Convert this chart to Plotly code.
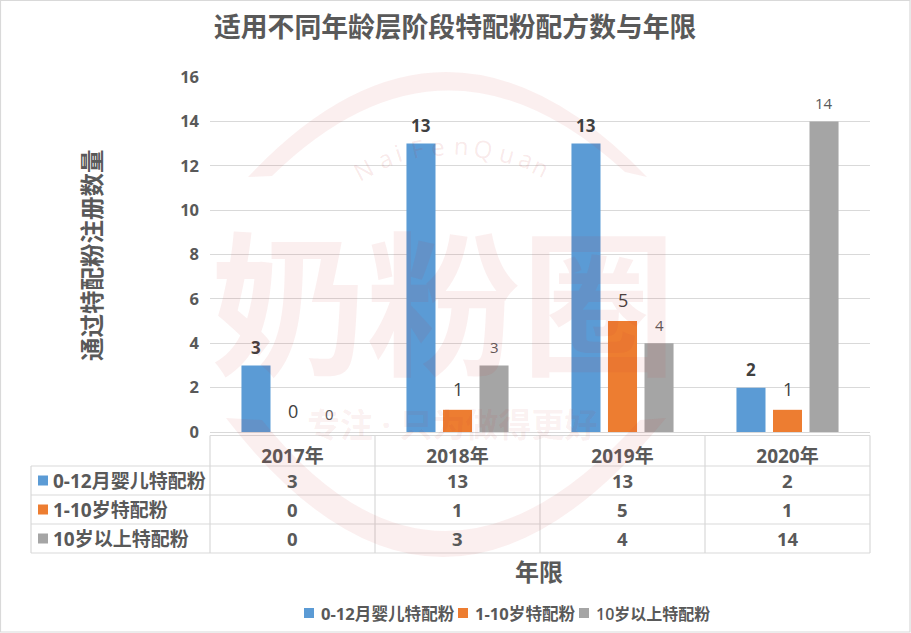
import plotly.graph_objects as go

title = "适用不同年龄层阶段特配粉配方数与年限"
y_title = "通过特配粉注册数量"
x_title = "年限"
years = ["2017年", "2018年", "2019年", "2020年"]
names = ["0-12月婴儿特配粉", "1-10岁特配粉", "10岁以上特配粉"]
infant = [3, 13, 13, 2]
child = [0, 1, 5, 1]
older = [0, 3, 4, 14]
colors = ["#5b9bd5", "#ed7d31", "#a5a5a5"]
series = [infant, child, older]

FONT = "Open Sans, Noto Sans CJK SC, sans-serif"
GREY = "#595959"
LINE = "#d9d9d9"
WM = "rgba(200,50,50,0.08)"
L, R, T, B = 210, 870, 77, 432


def px(x):
    return (x - L) / (R - L)


def py(y):
    return (B - y) / (B - T)


def pt(x, y):
    return f"{px(x):.5f},{py(y):.5f}"


fig = go.Figure()
for name, vals, col in zip(names, series, colors):
    fig.add_bar(name=name, x=years, y=vals, marker=dict(color=col, line_width=0), showlegend=False)

shapes = []
ann = []


def hline(x0, x1, y):
    shapes.append(dict(type="line", xref="paper", yref="paper", x0=px(x0), x1=px(x1), y0=py(y), y1=py(y),
                       line=dict(color=LINE, width=1.2)))


def vline(x, y0, y1):
    shapes.append(dict(type="line", xref="paper", yref="paper", x0=px(x), x1=px(x), y0=py(y0), y1=py(y1),
                       line=dict(color=LINE, width=1.2)))


def text(x, y, s, size, color=GREY, weight=700, anchor="center", **kw):
    ann.append(dict(xref="paper", yref="paper", x=px(x), y=py(y), text=s, showarrow=False, xanchor=anchor,
                    yanchor="middle", font=dict(family=FONT, size=size, color=color, weight=weight), **kw))


def square(x, y, size, col):
    shapes.append(dict(type="rect", xref="paper", yref="paper", x0=px(x), x1=px(x + size), y0=py(y),
                       y1=py(y + size), fillcolor=col, line_width=0))


# outer border
shapes.append(dict(type="rect", xref="paper", yref="paper", x0=px(0.5), x1=px(910), y0=py(0.5), y1=py(632),
                   line=dict(color=LINE, width=1.2), fillcolor="rgba(0,0,0,0)"))

# data table
rows = [435.5, 466, 495, 524, 553]
hline(210, 870, rows[0])
for r in rows[1:]:
    hline(31, 870, r)
vline(31, rows[1], rows[4])
for c in [210, 375, 540, 705, 870]:
    vline(c, rows[0], rows[4])
for i, (name, vals, col) in enumerate(zip(names, series, colors)):
    mid = (rows[i + 1] + rows[i + 2]) / 2
    square(38, mid - 5, 10, col)
    text(51, mid, name, 19, anchor="left")
    for year, v in zip(years, vals):
        ann.append(dict(x=year, xref="x", yref="paper", y=py(mid), text=str(v), showarrow=False, yanchor="middle",
                        font=dict(family=FONT, size=18.5, color=GREY, weight=700)))

# data labels
offs = [-36.5, 0, 36.5]
lift = [18, 21, 18]
lab = [dict(size=17, color="#404040", weight=700), dict(size=18, color="#404040", weight=400),
       dict(size=15, color=GREY, weight=400)]
for vals, o, d, f in zip(series, offs, lift, lab):
    for year, v in zip(years, vals):
        ann.append(dict(x=year, y=v, xref="x", yref="y", text=str(v), showarrow=False, xshift=o, yshift=d,
                        yanchor="middle", font=dict(family=FONT, **f)))

# legend
for xs, xt, name, col, size, w in zip([304, 458, 579], [319, 473, 594], names, colors, [16.6, 16.6, 16], [700, 700, 600]):
    square(xs, 608, 10, col)
    text(xt, 613.5, name, size, anchor="left", weight=w)

# titles
text(455, 27, title, 26.8)
text(539, 571, x_title, 24)
text(92, 255, y_title, 23.5, textangle=-90)

# watermark
shapes.append(dict(type="path", xref="paper", yref="paper", layer="above", line_width=0, fillcolor=WM,
                   path=f"M{pt(248,177)} Q{pt(445,-33)} {pt(647,177)} L{pt(625,172)} Q{pt(445,7)} {pt(272,176)} Z"))
shapes.append(dict(type="path", xref="paper", yref="paper", layer="above", line_width=0, fillcolor=WM,
                   path=f"M{pt(226,418)} Q{pt(440,696)} {pt(666,418)} L{pt(640,420)} Q{pt(440,642)} {pt(262,420)} Z"))
text(443, 302, "奶粉圈", 155, color=WM, weight=700)
text(452, 424, "专注 · 只为做得更好", 33, color=WM, weight=700)
letters = "NaiFenQuan"
lx = [363, 384, 398, 417, 437, 461, 483, 507, 526, 541]
ly = [169, 158, 152, 148, 146, 145, 148, 153, 158, 166]
la = [-28, -22, -18, -12, -6, 3, 10, 15, 20, 26]
for c, x, y, a in zip(letters, lx, ly, la):
    text(x, y, c, 24, color="rgba(200,50,50,0.11)", weight=400, textangle=a)

fig.update_layout(
    width=911, height=633, autosize=False,
    margin=dict(l=L, r=911 - R, t=T, b=633 - B),
    paper_bgcolor="white", plot_bgcolor="rgba(0,0,0,0)",
    barmode="group", bargap=0.336, bargroupgap=0.205,
    shapes=shapes, annotations=ann,
    font=dict(family=FONT, color=GREY),
    xaxis=dict(type="category", categoryorder="array", categoryarray=years, showgrid=False, showline=True,
               linecolor=LINE, linewidth=1, ticks="", ticklabelstandoff=7,
               tickfont=dict(family=FONT, size=19, color=GREY, weight=700)),
    yaxis=dict(range=[0, 16], dtick=2, gridcolor=LINE, gridwidth=1, zeroline=False, showline=False, ticks="",
               ticklabelstandoff=10, tickfont=dict(family=FONT, size=16.5, color=GREY, weight=700)),
)
fig.write_html("out.html", post_script="document.body.style.margin='0';document.body.style.overflow='hidden';",
               config=dict(displayModeBar=False))
